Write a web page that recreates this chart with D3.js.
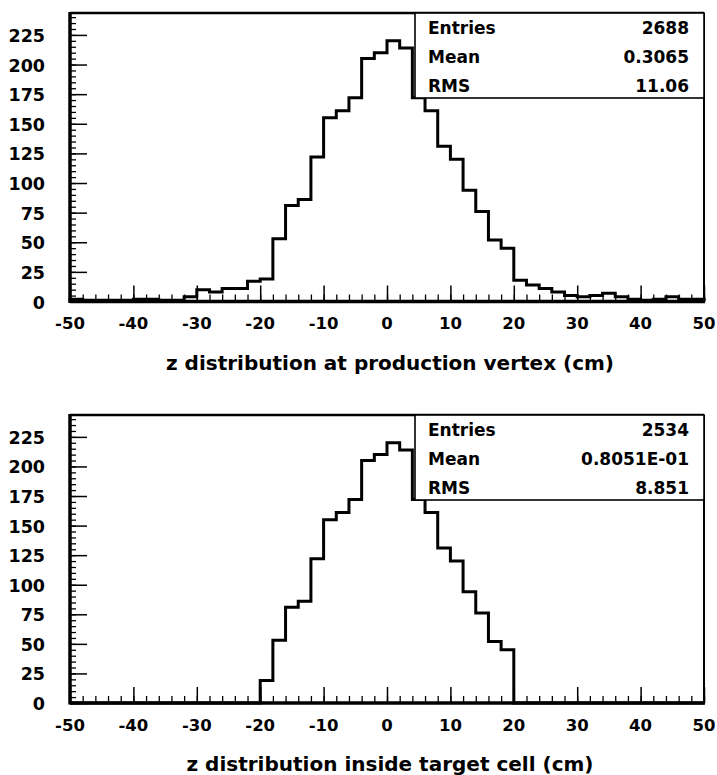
<!DOCTYPE html>
<html>
<head>
<meta charset="utf-8">
<script src="https://cdn.jsdelivr.net/npm/d3@7"></script>
<style>
  body { margin: 0; background: #fff; }
  svg { display: block; }
  text { font-family: "DejaVu Sans", sans-serif; font-weight: bold; fill: #000; }
</style>
</head>
<body>
<svg width="717" height="775"></svg>
<script>
// histogram binning: 50 bins of 2 cm from -50 to 50
const zMin = -50, zMax = 50, binWidth = 2;

// counts per bin (left to right)
const productionCounts = [
    2, 1, 1, 1, 1, 2, 2, 1, 1, 4, 10, 8, 11, 11, 17,
    19, 53, 81, 86, 122, 155, 161, 172, 205, 210, 220, 214, 172, 161, 131, 120, 94, 76, 52, 45,
    18, 14, 11, 8, 5, 4, 5, 7, 4, 2, 1, 2, 4, 2, 2
];
const targetCounts = [
    0, 0, 0, 0, 0, 0, 0, 0, 0, 0, 0, 0, 0, 0, 0,
    19, 53, 81, 86, 122, 155, 161, 172, 205, 210, 220, 214, 172, 161, 131, 120, 94, 76, 52, 45,
    0, 0, 0, 0, 0, 0, 0, 0, 0, 0, 0, 0, 0, 0, 0
];

const statLabels = ['Entries', 'Mean', 'RMS'];
const productionStats = ['2688', '0.3065', '11.06'];
const targetStats = ['2534', '0.8051E-01', '8.851'];

const xTickLabels = [-50, -40, -30, -20, -10, 0, 10, 20, 30, 40, 50];
const yTickLabels = [0, 25, 50, 75, 100, 125, 150, 175, 200, 225];

const titles = [
    'z distribution at production vertex (cm)',
    'z distribution inside target cell (cm)'
];

const yMax = 243.5;
const svg = d3.select('svg');

function drawPanel(counts, stats, title, top, bottom) {
    const left = 70, right = 704;
    const g = svg.append('g');

    const x = d3.scaleLinear().domain([zMin, zMax]).range([left, right]);
    const y = d3.scaleLinear().domain([0, yMax]).range([bottom, top]);

    // step outline of the histogram
    const pts = [[zMin, 0]];
    counts.forEach((c, i) => {
        const lo = zMin + i * binWidth;
        pts.push([lo, c], [lo + binWidth, c]);
    });
    pts.push([zMax, 0]);

    g.append('path')
        .attr('d', d3.line().x(d => x(d[0])).y(d => y(d[1]))(pts))
        .attr('fill', 'none')
        .attr('stroke', '#000')
        .attr('stroke-width', 3)
        .attr('stroke-linejoin', 'miter');

    // x ticks (pointing up from the baseline)
    const xMinor = d3.range(zMin, zMax + 0.1, binWidth);
    g.append('g')
        .attr('transform', `translate(0,${bottom})`)
        .call(d3.axisTop(x).tickValues(xMinor).tickSize(7).tickFormat(''))
        .call(a => a.select('.domain').remove())
        .selectAll('line').attr('stroke-width', 1.3);
    g.append('g')
        .attr('transform', `translate(0,${bottom})`)
        .call(d3.axisTop(x).tickValues(xTickLabels).tickSize(16).tickFormat(''))
        .call(a => a.select('.domain').remove())
        .selectAll('line').attr('stroke-width', 1.5);

    // y ticks (pointing right from the left axis)
    const yMinor = d3.range(0, yMax, 5);
    g.append('g')
        .attr('transform', `translate(${left},0)`)
        .call(d3.axisRight(y).tickValues(yMinor).tickSize(6).tickFormat(''))
        .call(a => a.select('.domain').remove())
        .selectAll('line').attr('stroke-width', 1.3);
    g.append('g')
        .attr('transform', `translate(${left},0)`)
        .call(d3.axisRight(y).tickValues(yTickLabels).tickSize(17).tickFormat(''))
        .call(a => a.select('.domain').remove())
        .selectAll('line').attr('stroke-width', 1.5);

    // frame
    g.append('line').attr('x1', left).attr('x2', right).attr('y1', top).attr('y2', top)
        .attr('stroke', '#000').attr('stroke-width', 2.5);
    g.append('line').attr('x1', right).attr('x2', right).attr('y1', top).attr('y2', bottom)
        .attr('stroke', '#000').attr('stroke-width', 2);
    g.append('line').attr('x1', left).attr('x2', left).attr('y1', top - 1).attr('y2', bottom + 1.5)
        .attr('stroke', '#000').attr('stroke-width', 3.5);
    g.append('line').attr('x1', left).attr('x2', right + 1).attr('y1', bottom).attr('y2', bottom)
        .attr('stroke', '#000').attr('stroke-width', 3.5);

    // tick labels
    g.selectAll('.xlab')
        .data(xTickLabels)
        .enter()
        .append('text')
        .attr('class', 'xlab')
        .attr('x', d => x(d))
        .attr('y', bottom + 27.5)
        .attr('text-anchor', 'middle')
        .style('font-size', '16.5px')
        .text(d => d);

    g.selectAll('.ylab')
        .data(yTickLabels)
        .enter()
        .append('text')
        .attr('class', 'ylab')
        .attr('x', 45)
        .attr('y', d => y(d) + 1)
        .attr('text-anchor', 'end')
        .attr('dominant-baseline', 'central')
        .style('font-size', '17.5px')
        .text(d => d);

    // stats box
    const boxLeft = 415;
    g.append('rect')
        .attr('x', boxLeft)
        .attr('y', top)
        .attr('width', right - boxLeft)
        .attr('height', 85)
        .attr('fill', '#fff')
        .attr('stroke', '#000')
        .attr('stroke-width', 1.6);

    statLabels.forEach((lab, i) => {
        g.append('text')
            .attr('x', 428)
            .attr('y', top + 21 + i * 29)
            .style('font-size', '17px')
            .text(lab);
        g.append('text')
            .attr('x', 689)
            .attr('y', top + 21 + i * 29)
            .attr('text-anchor', 'end')
            .style('font-size', '17px')
            .text(stats[i]);
    });

    // axis title
    g.append('text')
        .attr('x', (left + right) / 2 + 3)
        .attr('y', bottom + 68)
        .attr('text-anchor', 'middle')
        .style('font-size', '20px')
        .text(title);
}

drawPanel(productionCounts, productionStats, titles[0], 13, 301.5);
drawPanel(targetCounts, targetStats, titles[1], 415, 703);
</script>
</body>
</html>
